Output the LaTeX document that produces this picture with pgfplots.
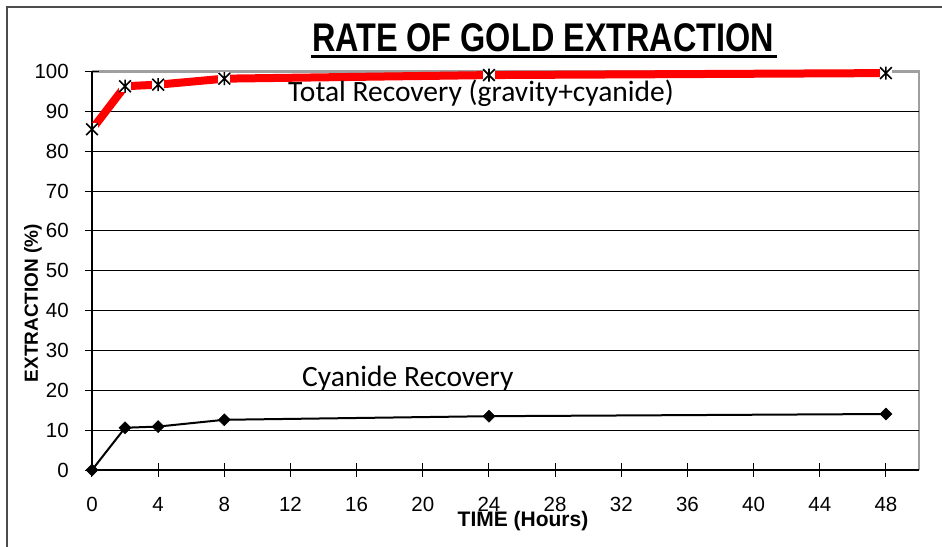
\documentclass[border=0pt]{standalone}
\usepackage{fontspec}
\setmainfont{Liberation Sans}
\newfontfamily\carlito{Carlito}
\usepackage{pgfplots}
\pgfplotsset{compat=1.18}
\pgfdeclareplotmark{xstar}{%
  \pgfpathrectangle{\pgfqpoint{-0.95\pgfplotmarksize}{-0.95\pgfplotmarksize}}{\pgfqpoint{1.9\pgfplotmarksize}{1.9\pgfplotmarksize}}%
  \pgfsetfillcolor{white}\pgfusepathqfill
  \pgfpathmoveto{\pgfqpoint{-0.9\pgfplotmarksize}{-0.9\pgfplotmarksize}}\pgfpathlineto{\pgfqpoint{0.9\pgfplotmarksize}{0.9\pgfplotmarksize}}%
  \pgfpathmoveto{\pgfqpoint{-0.9\pgfplotmarksize}{0.9\pgfplotmarksize}}\pgfpathlineto{\pgfqpoint{0.9\pgfplotmarksize}{-0.9\pgfplotmarksize}}%
  \pgfpathmoveto{\pgfqpoint{0pt}{-\pgfplotmarksize}}\pgfpathlineto{\pgfqpoint{0pt}{\pgfplotmarksize}}%
  \pgfusepathqstroke}
\pgfdeclareplotmark{sqdiamond}{%
  \pgfpathmoveto{\pgfqpoint{0pt}{\pgfplotmarksize}}%
  \pgfpathlineto{\pgfqpoint{\pgfplotmarksize}{0pt}}%
  \pgfpathlineto{\pgfqpoint{0pt}{-\pgfplotmarksize}}%
  \pgfpathlineto{\pgfqpoint{-\pgfplotmarksize}{0pt}}%
  \pgfpathclose\pgfusepathqfillstroke}
\begin{document}
\begin{tikzpicture}
\draw[black!70, line width=1.2pt] (-85pt,-120pt) -- (-85pt,463pt) -- (900pt,463pt);
\draw[gray!75, line width=2.5pt] (0pt,398.5pt) -- (827pt,398.5pt) -- (827pt,0pt);
\begin{axis}[
  at={(0pt,0pt)}, anchor=south west,
  scale only axis, width=827pt, height=398.5pt,
  xmin=0, xmax=50, ymin=0, ymax=100, enlargelimits=false,
  axis lines=left, axis line style={-, black, line width=1.5pt},
  xtick={0,4,...,48}, ytick={0,10,...,90},
  extra y ticks={100}, extra y tick style={grid=none},
  ymajorgrids, grid style={black, line width=0.8pt},
  major tick length=14pt, tick align=center,
  tick style={black, line width=1pt},
  /pgf/number format/assume math mode=true,
  ticklabel style={font=\fontsize{20.5}{22}\selectfont},
  xticklabel style={anchor=north, inner sep=0pt, yshift=-20pt},
  yticklabel style={anchor=east, inner sep=0pt, xshift=-16pt},
  clip=false,
]
\addplot[red, line width=8pt, mark=xstar, mark size=6.5pt,
  mark options={black, line width=1.6pt}] coordinates {
  (0,85.5) (2,96.3) (4,96.7) (8,98.2) (24,99.1) (48,99.6)};
\addplot[black, line width=2pt, mark=sqdiamond, mark size=6pt,
  mark options={black, fill=black, line width=0.5pt}] coordinates {
  (0,0) (2,10.6) (4,10.9) (8,12.6) (24,13.5) (48,14.05)};
\end{axis}
\node[anchor=base, inner sep=0pt] (title) at (451pt,418pt)
  {\scalebox{0.81}[1]{\fontsize{40}{44}\selectfont\bfseries RATE OF GOLD EXTRACTION}};
\draw[black, line width=3pt] (219pt,413pt) -- (685pt,413pt);
\node[anchor=base west, inner sep=0pt] at (196pt,368pt)
  {\carlito\fontsize{29.5}{32}\selectfont Total Recovery (gravity+cyanide)};
\node[anchor=base west, inner sep=0pt] at (210pt,83pt)
  {\carlito\fontsize{29.5}{32}\selectfont Cyanide Recovery};
\node[inner sep=0pt] at (431pt,-51pt)
  {\fontsize{21}{24}\selectfont\bfseries TIME (Hours)};
\node[inner sep=0pt, rotate=90] at (-59pt,167pt)
  {\fontsize{19}{22}\selectfont\bfseries EXTRACTION (\%)};
\pgfresetboundingbox
\useasboundingbox (-92pt,-76pt) rectangle (850pt,470pt);
\end{tikzpicture}
\end{document}
